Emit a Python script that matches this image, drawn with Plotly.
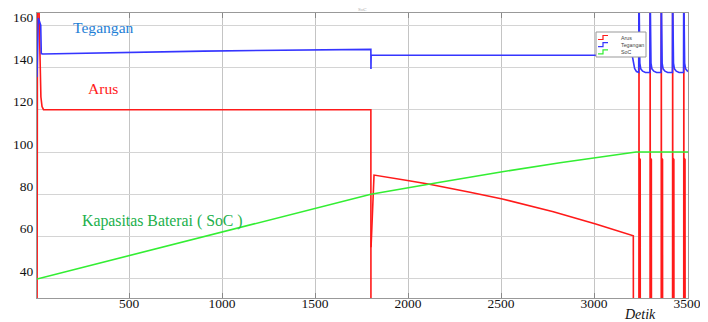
import plotly.graph_objects as go

# ---------------- data ----------------
arus_t = [5, 8, 20, 22, 26, 32, 40, 1800, 1800.5, None, 1801, 1817, 2005, 2108, 2333, 2507, 2781, 3009, 3211, 3211.5,
          3241, 3241.5, 3242, 3248, 3248.5,
          3301, 3301.5, 3302, 3308, 3308.5,
          3361, 3361.5, 3362, 3368, 3368.5,
          3422, 3422.5, 3423, 3429, 3429.5,
          3482, 3482.5, 3483, 3489, 3489.5, 3505]
arus_v = [0, 200, 150, 135, 126, 121.5, 120, 120, 0, None, 55, 89.1, 86.45, 84.9, 81.0, 77.8, 71.8, 66.0, 60.4, 0,
          0, 200, 97.2, 96.5, 0,
          0, 200, 97.2, 96.5, 0,
          0, 200, 97.2, 96.5, 0,
          0, 200, 97.2, 96.5, 0,
          0, 200, 97.2, 96.5, 0, 0]

teg_t = [5, 8, 12, 25, 28, 35, 500, 900, 1800, 1800.5, 1801.5, 3205, 3212, 3218, 3228,
         3240, 3241, 3243, 3246, 3251, 3261, 3276,
         3300, 3301, 3303, 3306, 3311, 3321, 3336,
         3360, 3361, 3363, 3366, 3371, 3381, 3396,
         3421, 3422, 3424, 3427, 3432, 3442, 3457,
         3481, 3482, 3484, 3487, 3492, 3502, 3505]
teg_v = [135.4, 162, 163.3, 160, 146.5, 146.3, 147.1, 147.7, 148.5, 139.2, 145.7, 145.7, 143, 139.5, 138,
         137.6, 180, 150, 142, 139.3, 138.2, 137.6,
         137.6, 180, 150, 142, 139.3, 138.2, 137.6,
         137.6, 180, 150, 142, 139.3, 138.2, 137.6,
         137.6, 180, 150, 142, 139.3, 138.2, 137.6,
         137.6, 180, 150, 142, 139.3, 138.2, 138.0]

soc_t = [5, 1800, 2172, 2507, 2817, 2961, 3226, 3505]
soc_v = [40.0, 80.0, 85.7, 90.7, 94.9, 96.7, 100, 100]

x_ticks = [500, 1000, 1500, 2000, 2500, 3000, 3500]
y_ticks = [40, 60, 80, 100, 120, 140, 160]

series_names = ["Arus", "Tegangan", "SoC"]
series_colors = ["#ff1a1a", "#3535ff", "#33ee33"]

SERIF = "Liberation Serif"

# The page body has an 8px default margin, so the figure is drawn 8px in from
# the window's top-left corner; size it so that it fills the 708x322 window.
OFF = 8
W, H = 708 - OFF, 322 - OFF
ML, MR, MT, MB = 37 - OFF, 20, 13 - OFF, 24
PW, PH = W - ML - MR, H - MT - MB


def px(x):
    """window pixel x -> paper x"""
    return (x - OFF - ML) / PW


def py(y):
    """window pixel y -> paper y"""
    return (H - MB - (y - OFF)) / PH


fig = go.Figure()
for name, t, v, c in zip(series_names, [arus_t, teg_t, soc_t], [arus_v, teg_v, soc_v], series_colors):
    fig.add_trace(go.Scatter(x=t, y=v, mode="lines", name=name,
                             line=dict(color=c, width=1.6), connectgaps=False,
                             showlegend=False))

fig.update_layout(
    width=W, height=H,
    margin=dict(l=ML, r=MR, t=MT, b=MB, autoexpand=False),
    paper_bgcolor="white", plot_bgcolor="white",
    showlegend=False,
    font=dict(family=SERIF),
    xaxis=dict(range=[5, 3505], tickvals=x_ticks, ticktext=[str(v) for v in x_ticks],
               showgrid=True, gridcolor="#c4c4c4", gridwidth=1, zeroline=False,
               showline=True, linecolor="#999", linewidth=1, mirror="allticks",
               ticks="inside", ticklen=5, tickcolor="#888", automargin=False,
               ticklabelstandoff=-7,
               tickfont=dict(family=SERIF, size=13.5, color="#111")),
    yaxis=dict(range=[31, 165.7], tickvals=y_ticks, ticktext=[str(v) for v in y_ticks],
               showgrid=True, gridcolor="#d4d4d4", gridwidth=1, zeroline=False,
               showline=True, linecolor="#999", linewidth=1, mirror=True,
               ticks="", ticklabelshift=-8, automargin=False,
               tickfont=dict(family=SERIF, size=13.5, color="#111")),
)

annots = [
    dict(text="Tegangan", x=px(103), y=py(27), color="#1f7fd6", size=15.6),
    dict(text="Arus", x=px(103), y=py(88), color="#ff1a1a", size=15.6),
    dict(text="Kapasitas Baterai ( SoC )", x=px(162.5), y=py(221), color="#22b04c", size=15.8),
    dict(text="<i>Detik</i>", x=px(640), y=py(314), color="#111", size=14),
    dict(text="SoC", x=px(362), y=py(10), color="#aaa", size=5),
]
for a in annots:
    fig.add_annotation(text=a["text"], x=a["x"], y=a["y"], xref="paper", yref="paper",
                       xanchor="center", yanchor="middle", showarrow=False,
                       font=dict(family=SERIF, size=a["size"], color=a["color"]))

# compact legend box like the original (MATLAB style, step icons)
fig.add_shape(type="rect", xref="paper", yref="paper",
              x0=px(596), x1=px(646), y0=py(57), y1=py(32),
              line=dict(color="#999", width=1), fillcolor="white", layer="above")
for i, (name, c) in enumerate(zip(series_names, series_colors)):
    yc = 37.5 + i * 7.2
    path = (f"M {px(598)},{py(yc + 2)} L {px(603)},{py(yc + 2)} "
            f"L {px(603)},{py(yc - 2)} L {px(608)},{py(yc - 2)}")
    fig.add_shape(type="path", path=path, xref="paper", yref="paper",
                  line=dict(color=c, width=1.2), layer="above")
    fig.add_annotation(text=name, x=px(619), y=py(yc), xref="paper", yref="paper",
                       xanchor="left", yanchor="middle", showarrow=False,
                       font=dict(family="Arial", size=5.3, color="#444"))

fig.write_html("out.html")
